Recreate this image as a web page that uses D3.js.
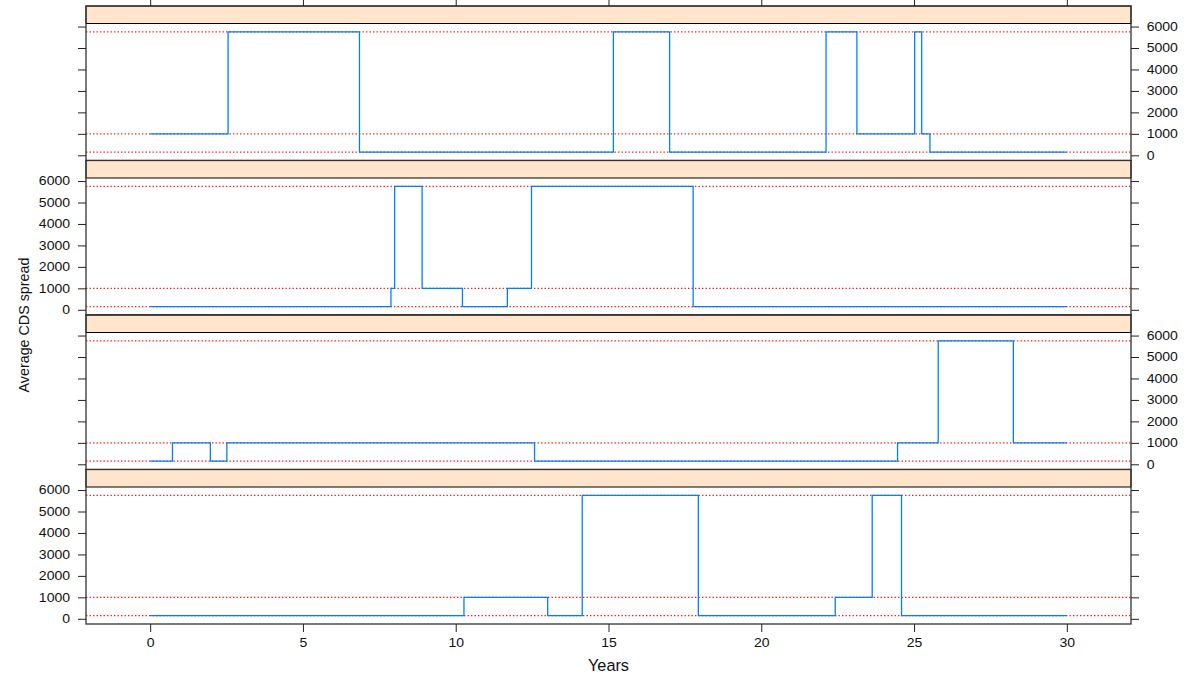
<!DOCTYPE html>
<html>
<head>
<meta charset="utf-8">
<script src="https://cdn.jsdelivr.net/npm/d3@7"></script>
<style>
  html, body { margin: 0; padding: 0; background: #fff; }
  svg { display: block; font-family: "Liberation Sans", Arial, Helvetica, sans-serif; }
</style>
</head>
<body>
<svg id="chart" width="1188" height="675"></svg>
<script>
// ---- data ----
const yearTicks = [0, 5, 10, 15, 20, 25, 30];
const spreadTicks = [0, 1000, 2000, 3000, 4000, 5000, 6000];
const refLevels = [150, 1000, 5750];

const panel1Years  = [0, 2.55, 6.85, 15.16, 17.0, 22.12, 23.13, 25.02, 25.25, 25.52, 30];
const panel1Spread = [1000, 5750, 150, 5750, 150, 5750, 1000, 5750, 1000, 150, 150];

const panel2Years  = [0, 7.88, 8.0, 8.9, 10.22, 11.69, 12.48, 17.77, 30];
const panel2Spread = [150, 1000, 5750, 1000, 150, 1000, 5750, 150, 150];

const panel3Years  = [0, 0.73, 1.97, 2.51, 12.58, 24.46, 25.79, 28.25, 30];
const panel3Spread = [150, 1000, 150, 1000, 150, 1000, 5750, 1000, 1000];

const panel4Years  = [0, 10.27, 13.01, 14.14, 17.94, 22.42, 23.63, 24.59, 30];
const panel4Spread = [150, 1000, 150, 5750, 150, 1000, 5750, 150, 150];

const panels = [
  { years: panel1Years, spread: panel1Spread, labelSide: "right" },
  { years: panel2Years, spread: panel2Spread, labelSide: "left" },
  { years: panel3Years, spread: panel3Spread, labelSide: "right" },
  { years: panel4Years, spread: panel4Spread, labelSide: "left" }
];

// ---- layout ----
const left = 86, right = 1131, top0 = 6, panelH = 154.5, stripH = 17.5;
const tickLen = 8;
const stretch = 1.15;
const svg = d3.select("#chart");

const x = d3.scaleLinear().domain([-2.1, 32.1]).range([left, right]);

panels.forEach((p, i) => {
  const pTop = top0 + i * panelH;
  const plotTop = pTop + stripH;
  const plotBot = pTop + panelH;
  const y = d3.scaleLinear().domain([-242, 6142]).range([plotBot, plotTop]);
  const g = svg.append("g");

  // reference lines
  g.selectAll("line.ref").data(refLevels).enter().append("line")
    .attr("x1", left).attr("x2", right)
    .attr("y1", d => y(d)).attr("y2", d => y(d))
    .attr("stroke", "#ff1a1a").attr("stroke-width", 1.2)
    .attr("stroke-dasharray", "1.4,2.1");

  // step line
  const pts = p.years.map((t, k) => [t, p.spread[k]]);
  g.append("path").datum(pts)
    .attr("fill", "none").attr("stroke", "#0080ff").attr("stroke-width", 1.3)
    .attr("d", d3.line().x(d => x(d[0])).y(d => y(d[1])).curve(d3.curveStepAfter));

  // strip
  g.append("rect").attr("x", left).attr("y", pTop).attr("width", right - left).attr("height", stripH)
    .attr("fill", "#ffe5cc").attr("stroke", "#000").attr("stroke-width", 1);

  // panel border
  g.append("rect").attr("x", left).attr("y", pTop).attr("width", right - left).attr("height", panelH)
    .attr("fill", "none").attr("stroke", "#333").attr("stroke-width", 1.3);

  // y axes
  const axL = g.append("g").attr("transform", `translate(${left},0)`)
    .call(d3.axisLeft(y).tickValues(spreadTicks).tickSize(tickLen)
      .tickFormat(p.labelSide === "left" ? d3.format("d") : () => ""));
  const axR = g.append("g").attr("transform", `translate(${right},0)`)
    .call(d3.axisRight(y).tickValues(spreadTicks).tickSize(tickLen)
      .tickFormat(p.labelSide === "right" ? d3.format("d") : () => ""));
  [axL, axR].forEach(ax => {
    ax.select(".domain").remove();
    ax.selectAll("line").attr("stroke", "#222");
    ax.selectAll("text").attr("font-size", "12.2px").attr("fill", "#111")
      .style("font-family", '"Liberation Sans", Arial, sans-serif');
  });
  axL.selectAll("text").attr("x", -16 / stretch).attr("transform", `scale(${stretch},1)`);
  axR.selectAll("text").attr("x", 15.7 / stretch).attr("transform", `scale(${stretch},1)`);

  if (i === 0) {
    const axT = g.append("g").attr("transform", `translate(0,${pTop})`)
      .call(d3.axisTop(x).tickValues(yearTicks).tickSize(tickLen).tickFormat(() => ""));
    axT.select(".domain").remove();
    axT.selectAll("line").attr("stroke", "#222");
  }
  if (i === panels.length - 1) {
    const axB = g.append("g").attr("transform", `translate(0,${plotBot})`)
      .call(d3.axisBottom(x).tickValues(yearTicks).tickSize(tickLen).tickPadding(6.5));
    axB.select(".domain").remove();
    axB.selectAll("line").attr("stroke", "#222");
    axB.selectAll("text").attr("font-size", "12.2px").attr("fill", "#111")
      .style("font-family", '"Liberation Sans", Arial, sans-serif')
      .attr("transform", `scale(${stretch},1)`);
  }
});

// axis titles
svg.append("text").attr("x", 608.5).attr("y", 671).attr("text-anchor", "middle")
  .attr("font-size", "16.3px").attr("fill", "#111").text("Years");
svg.append("text").attr("transform", "translate(28.5,325) rotate(-90)").attr("text-anchor", "middle")
  .attr("font-size", "14.3px").attr("fill", "#111").text("Average CDS spread");
</script>
</body>
</html>
